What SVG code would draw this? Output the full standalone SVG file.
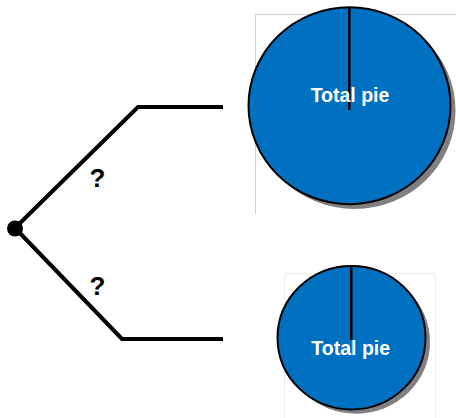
<svg xmlns="http://www.w3.org/2000/svg" width="456" height="418" viewBox="0 0 456 418">
  <style>
    .branch { fill: none; stroke: #000; stroke-width: 4; stroke-linejoin: miter; }
    .frame { fill: none; stroke: #cfcfcf; stroke-width: 1; }
    .frame-light { fill: none; stroke: #ececec; stroke-width: 1; }
    .pie { fill: #0070c0; stroke: #000; stroke-width: 2; }
    .shadow { fill: #808080; }
    .radius { stroke: #000; stroke-width: 2.5; }
    .label { font-family: "Liberation Sans", Arial, sans-serif; font-weight: bold; fill: #fff; font-size: 19.5px; text-anchor: middle; }
    .q { font-family: "Liberation Sans", Arial, sans-serif; font-weight: bold; fill: #000; font-size: 26px; text-anchor: middle; }
  </style>

  <!-- decision branches -->
  <g id="connectors">
    <polyline class="branch" points="15,228 138,107 223,107"/>
    <polyline class="branch" points="15,228 122,339 223,339"/>
  </g>

  <g id="decision">
    <circle cx="15" cy="228.5" r="8" fill="#000"/>
  </g>

  <g id="label-upper">
    <text class="q" x="97.5" y="187">?</text>
  </g>
  <g id="label-lower">
    <text class="q" x="97.5" y="295">?</text>
  </g>

  <!-- large pie -->
  <g id="pie-large">
    <polyline class="frame" points="255.5,214.5 255.5,14.5 456,14.5"/>
    <ellipse class="shadow" cx="354.5" cy="110.5" rx="101" ry="98.5"/>
    <ellipse class="pie" cx="349.5" cy="105.7" rx="101" ry="98.5"/>
    <line class="radius" x1="349.3" y1="7.5" x2="349.3" y2="110"/>
    <text class="label" x="350" y="101.5">Total pie</text>
  </g>

  <!-- small pie -->
  <g id="pie-small">
    <polyline class="frame-light" points="284.5,418 284.5,273.5 435.5,273.5 435.5,418"/>
    <ellipse class="shadow" cx="356" cy="342" rx="74" ry="71.7"/>
    <ellipse class="pie" cx="351.5" cy="337.7" rx="74" ry="71.7"/>
    <line class="radius" x1="351.3" y1="266" x2="351.3" y2="340"/>
    <text class="label" x="350.7" y="355">Total pie</text>
  </g>
</svg>
